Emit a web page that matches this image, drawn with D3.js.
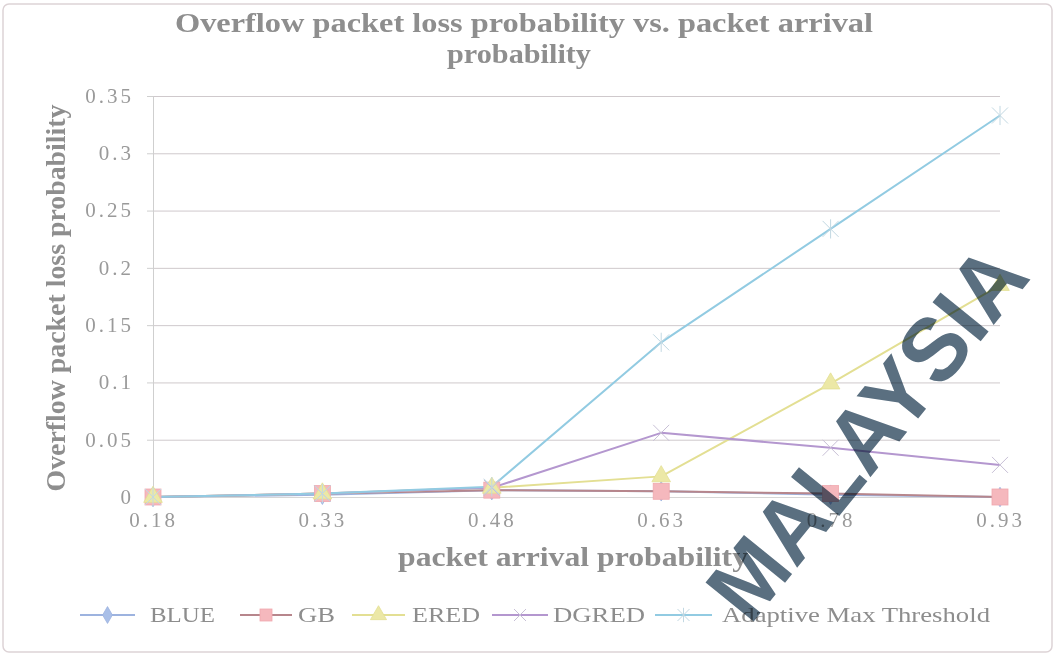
<!DOCTYPE html>
<html><head><meta charset="utf-8">
<script src="https://cdn.jsdelivr.net/npm/d3@7"></script>
<style>
html,body{margin:0;padding:0;background:#fff;}
svg{display:block;}
</style></head>
<body>
<svg id="chart" width="1053" height="658"></svg>
<script>
const categories = ["0.18","0.33","0.48","0.63","0.78","0.93"];
const yTicks = [0,0.05,0.1,0.15,0.2,0.25,0.3,0.35];
const yTickLabels = ["0","0.05","0.1","0.15","0.2","0.25","0.3","0.35"];
const seriesNames = ["BLUE","GB","ERED","DGRED","Adaptive Max Threshold"];
const blueValues = [0, 0.002, 0.006, 0.005, 0.002, 0];
const gbValues = [0, 0.003, 0.006, 0.005, 0.003, 0];
const eredValues = [0, 0.003, 0.008, 0.018, 0.099, 0.185];
const dgredValues = [0, 0.003, 0.008, 0.056, 0.043, 0.028];
const adaptiveValues = [0, 0.003, 0.009, 0.135, 0.234, 0.333];
const titleLines = ["Overflow packet loss probability  vs. packet arrival","probability"];
const xTitle = "packet arrival probability";
const yTitle = "Overflow packet loss probability";
const watermarkText = "MALAYSIA";

const series = [
  {name: seriesNames[0], values: blueValues, line: "#9db3df", fill: "#a9bfe8", marker: "diamond"},
  {name: seriesNames[1], values: gbValues, line: "#b7868c", fill: "#f5b8bd", marker: "square"},
  {name: seriesNames[2], values: eredValues, line: "#e3df93", fill: "#ece8a6", marker: "triangle"},
  {name: seriesNames[3], values: dgredValues, line: "#b497cf", fill: "none", marker: "x"},
  {name: seriesNames[4], values: adaptiveValues, line: "#92cbe2", fill: "none", marker: "star"}
];

const svg = d3.select("#chart");
const W = 1053, H = 658;
const serif = "'Liberation Serif','DejaVu Serif',serif";

// outer chart border
svg.append("rect").attr("x",3).attr("y",4).attr("width",W-4).attr("height",H-10)
  .attr("rx",6).attr("fill","none").attr("stroke","#ddd3d6").attr("stroke-width",1.5);

const x = d3.scalePoint().domain(categories).range([153, 1000]).padding(0);
const y = d3.scaleLinear().domain([0, 0.35]).range([497, 96]);

// gridlines
const grid = svg.append("g").attr("transform","translate(153,0)")
  .call(d3.axisLeft(y).tickValues(yTicks).tickSize(-(1000-153)).tickFormat(""));
grid.select(".domain").remove();
grid.selectAll(".tick line").attr("stroke","#cfc9cc").attr("stroke-width",1);

// y axis
const yAxis = svg.append("g").attr("transform","translate(153,0)")
  .call(d3.axisLeft(y).tickValues(yTicks).tickSize(6).tickPadding(13)
    .tickFormat((d,i)=>yTickLabels[i]));
yAxis.select(".domain").attr("stroke","#cfcfcf");
yAxis.selectAll(".tick line").attr("stroke","#cfcfcf");
yAxis.selectAll("text").attr("font-family",serif).attr("font-size",21)
  .attr("fill","#9a9a9a").attr("letter-spacing","3px").attr("dy","0.3em");

// x axis
const xAxis = svg.append("g").attr("transform","translate(0,497)")
  .call(d3.axisBottom(x).tickSize(0).tickPadding(19));
xAxis.select(".domain").attr("stroke","#d6d6d6");
xAxis.selectAll("text").attr("font-family",serif).attr("font-size",21)
  .attr("fill","#9a9a9a").attr("letter-spacing","3px").attr("dy","0.5em");

// titles
const t = svg.append("text").attr("text-anchor","middle").attr("font-family",serif)
  .attr("font-weight","bold").attr("font-size",27).attr("fill","#8e8e8e");
t.append("tspan").attr("x",524).attr("y",32).attr("textLength",698)
  .attr("lengthAdjust","spacingAndGlyphs").text(titleLines[0]);
t.append("tspan").attr("x",519).attr("y",63).attr("textLength",144)
  .attr("lengthAdjust","spacingAndGlyphs").text(titleLines[1]);

svg.append("text").attr("transform","translate(65,298) rotate(-90)")
  .attr("text-anchor","middle").attr("font-family",serif).attr("font-weight","bold")
  .attr("font-size",27).attr("fill","#8e8e8e")
  .attr("textLength",387).attr("lengthAdjust","spacingAndGlyphs").text(yTitle);

svg.append("text").attr("x",573).attr("y",566).attr("text-anchor","middle")
  .attr("font-family",serif).attr("font-weight","bold").attr("font-size",27)
  .attr("fill","#8e8e8e").attr("textLength",350).attr("lengthAdjust","spacingAndGlyphs")
  .text(xTitle);

// markers
function drawMarker(g, type, cx, cy, fill, line, k) {
  k = k || 1;
  if (type === "diamond") {
    g.append("path").attr("d", d3.symbol(d3.symbolDiamond, 110*k)()).attr("transform",`translate(${cx},${cy})`)
      .attr("fill",fill).attr("stroke",line).attr("stroke-width",0.8);
  } else if (type === "square") {
    const h = 8*k;
    g.append("rect").attr("x",cx-h).attr("y",cy-h).attr("width",2*h).attr("height",2*h)
      .attr("fill",fill).attr("stroke","#f0a8ae").attr("stroke-width",0.8);
  } else if (type === "triangle") {
    g.append("path").attr("d", d3.symbol(d3.symbolTriangle, 150*k)()).attr("transform",`translate(${cx},${cy})`)
      .attr("fill",fill).attr("stroke",line).attr("stroke-width",0.8);
  } else if (type === "x") {
    const h = 8*k;
    g.append("path").attr("d",`M${cx-h},${cy-h}L${cx+h},${cy+h}M${cx-h},${cy+h}L${cx+h},${cy-h}`)
      .attr("stroke","#c8c0d6").attr("stroke-width",1).attr("fill","none");
  } else if (type === "star") {
    const h = 8*k;
    g.append("path").attr("d",`M${cx-h},${cy-h}L${cx+h},${cy+h}M${cx-h},${cy+h}L${cx+h},${cy-h}M${cx},${cy-h*1.2}L${cx},${cy+h*1.2}`)
      .attr("stroke","#c2d8e2").attr("stroke-width",1).attr("fill","none");
  }
}

const lineGen = d3.line().x((d,i)=>x(categories[i])).y(d=>y(d));
const plot = svg.append("g");
series.forEach(s => {
  plot.append("path").datum(s.values).attr("d",lineGen)
    .attr("fill","none").attr("stroke",s.line).attr("stroke-width",2)
    .attr("stroke-linejoin","round");
});
series.forEach(s => {
  const g = plot.append("g");
  s.values.forEach((v,i) => drawMarker(g, s.marker, x(categories[i]), y(v), s.fill, s.line));
});

// legend layout
const legendLayout = [
  {x0: 80, x1: 135, tx: 150, tw: 65},
  {x0: 240, x1: 292, tx: 298, tw: 37},
  {x0: 352, x1: 405, tx: 412, tw: 68},
  {x0: 492, x1: 548, tx: 553, tw: 92},
  {x0: 655, x1: 712, tx: 722, tw: 268}
];
const lg = svg.append("g");
series.forEach((s,i) => {
  const L = legendLayout[i], ly = 615;
  lg.append("line").attr("x1",L.x0).attr("x2",L.x1).attr("y1",ly).attr("y2",ly)
    .attr("stroke",s.line).attr("stroke-width",2);
  drawMarker(lg, s.marker, (L.x0+L.x1)/2, ly, s.fill, s.line, 0.75);
  lg.append("text").attr("x",L.tx).attr("y",ly+7).attr("font-family",serif)
    .attr("font-size",21).attr("fill","#8d8d8d")
    .attr("textLength",L.tw).attr("lengthAdjust","spacingAndGlyphs").text(s.name);
});

// scanned watermark
svg.append("text").attr("transform","translate(750,626) rotate(-51)")
  .attr("font-family","'Liberation Sans','DejaVu Sans',sans-serif").attr("font-weight","bold")
  .attr("font-size",90).attr("textLength",448).attr("lengthAdjust","spacingAndGlyphs")
  .attr("fill","#5a6f80").style("mix-blend-mode","multiply")
  .text(watermarkText);
</script>
</body></html>
